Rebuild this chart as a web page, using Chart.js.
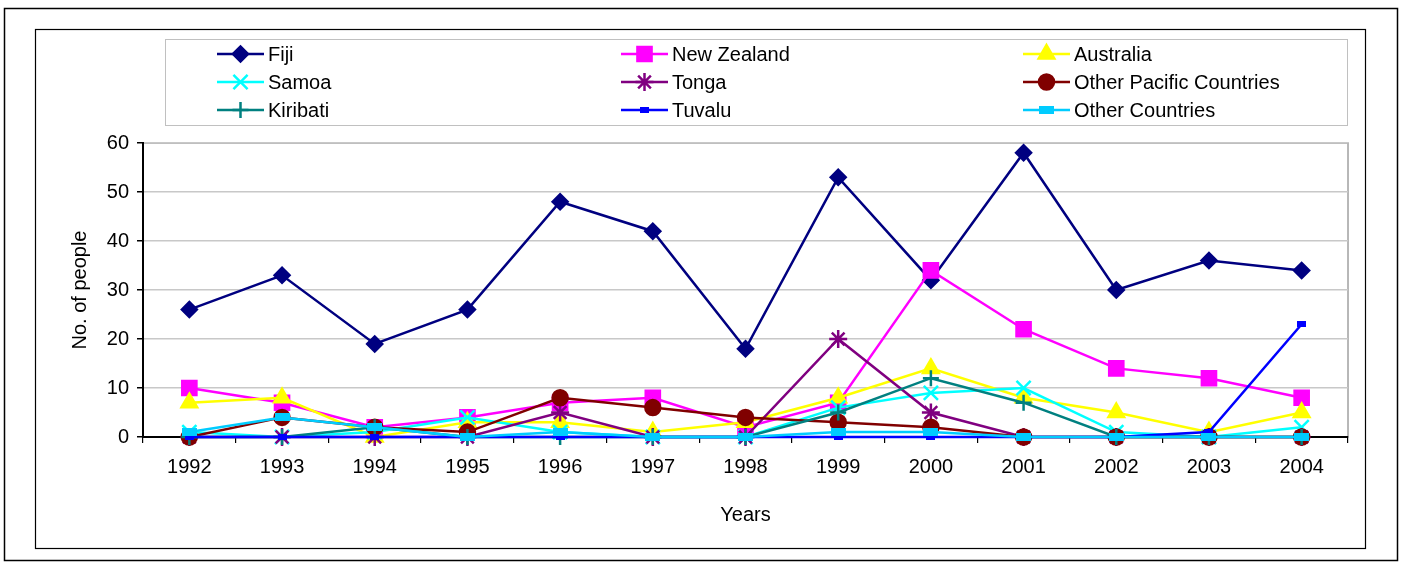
<!DOCTYPE html>
<html>
<head>
<meta charset="utf-8">
<script src="https://cdn.jsdelivr.net/npm/chart.js"></script>
<style>
  html, body { margin: 0; padding: 0; background: #fff; }
</style>
</head>
<body>
<canvas id="myChart" width="1402" height="564"></canvas>
<script>
// datos
var years = ["1992", "1993", "1994", "1995", "1996", "1997", "1998", "1999", "2000", "2001", "2002", "2003", "2004"];
var fiji          = [26, 33, 19, 26, 48, 42, 18, 53, 32, 58, 30, 36, 34];
var newZealand    = [10, 7, 2, 4, 7, 8, 2, 7, 34, 22, 14, 12, 8];
var australia     = [7, 8, 0, 3, 3, 1, 3, 8, 14, 8, 5, 1, 5];
var samoa         = [1, 0, 1, 4, 1, 0, 0, 6, 9, 10, 1, 0, 2];
var tonga         = [0, 0, 0, 0, 5, 0, 0, 20, 5, 0, 0, 0, 0];
var otherPacific  = [0, 4, 2, 1, 8, 6, 4, 3, 2, 0, 0, 0, 0];
var kiribati      = [0, 0, 2, 0, 0, 0, 0, 5, 12, 7, 0, 0, 0];
var tuvalu        = [0, 0, 0, 0, 0, 0, 0, 0, 0, 0, 0, 1, 23];
var otherCountries = [1, 4, 2, 0, 1, 0, 0, 1, 1, 0, 0, 0, 0];

var fuente = '"Liberation Sans", Arial, sans-serif';

function marcaRect(w, h, color) {
    var c = document.createElement('canvas');
    c.width = w; c.height = h;
    var x = c.getContext('2d');
    x.fillStyle = color;
    x.fillRect(0, 0, w, h);
    return c;
}

function serie(nombre, datos, color, estilo, radio) {
    return {
        label: nombre,
        data: datos,
        borderColor: color,
        backgroundColor: color,
        pointBackgroundColor: color,
        pointBorderColor: color,
        pointStyle: estilo,
        pointRadius: radio,
        pointBorderWidth: 2.5,
        borderWidth: 2.5,
        tension: 0,
        fill: false,
        clip: false
    };
}

var series = [
    serie("Fiji", fiji, "#000080", "rectRot", 7.5),
    serie("New Zealand", newZealand, "#FF00FF", "rect", 10),
    serie("Australia", australia, "#FFFF00", "triangle", 9),
    serie("Samoa", samoa, "#00FFFF", "crossRot", 10),
    serie("Tonga", tonga, "#800080", "star", 9),
    serie("Other Pacific Countries", otherPacific, "#800000", "circle", 7.5),
    serie("Kiribati", kiribati, "#008080", "cross", 8),
    serie("Tuvalu", tuvalu, "#0000FF", marcaRect(9, 6, "#0000FF"), 5),
    serie("Other Countries", otherCountries, "#00CCFF", marcaRect(15, 8, "#00CCFF"), 7)
];
// excel pinta la ultima serie encima
for (var i = 0; i < series.length; i++) {
    series[i].order = series.length - i;
}

function dibujaMarca(ctx, ds, x, y) {
    ctx.save();
    ctx.fillStyle = ds.pointBackgroundColor;
    ctx.strokeStyle = ds.pointBorderColor;
    ctx.lineWidth = ds.pointBorderWidth;
    Chart.helpers.drawPoint(ctx, { pointStyle: ds.pointStyle, radius: ds.pointRadius, rotation: 0, borderWidth: ds.pointBorderWidth }, x, y);
    ctx.restore();
}

var marcos = {
    id: 'marcos',
    beforeDraw: function (chart) {
        var ctx = chart.ctx;
        var a = chart.chartArea;
        ctx.save();
        ctx.fillStyle = '#fff';
        ctx.fillRect(0, 0, chart.width, chart.height);
        ctx.strokeStyle = '#000';
        ctx.lineWidth = 1.5;
        ctx.strokeRect(4.5, 8.5, 1393, 552);
        ctx.lineWidth = 1.2;
        ctx.strokeRect(35.5, 29.5, 1330, 519);
        ctx.strokeStyle = '#C0C0C0';
        ctx.lineWidth = 1;
        ctx.strokeRect(165.5, 39.5, 1182, 86);
        ctx.strokeStyle = '#A0A0A0';
        ctx.lineWidth = 1.5;
        ctx.strokeRect(a.left, a.top, a.right - a.left, a.bottom - a.top);
        ctx.restore();
    },
    afterDraw: function (chart) {
        // leyenda en tres columnas
        var ctx = chart.ctx;
        var ds = chart.data.datasets;
        var colX = [217, 621, 1023];
        var filaY = [54, 82, 110];
        ctx.save();
        ctx.font = '20px ' + fuente;
        ctx.textBaseline = 'middle';
        for (var i = 0; i < ds.length; i++) {
            var x = colX[i % 3];
            var y = filaY[Math.floor(i / 3)];
            ctx.strokeStyle = ds[i].borderColor;
            ctx.lineWidth = ds[i].borderWidth;
            ctx.beginPath();
            ctx.moveTo(x, y);
            ctx.lineTo(x + 47, y);
            ctx.stroke();
            dibujaMarca(ctx, ds[i], x + 23.5, y);
            ctx.fillStyle = '#000';
            ctx.fillText(ds[i].label, x + 51, y + 1);
        }
        ctx.restore();
    }
};

new Chart("myChart", {
    type: "line",
    data: {
        labels: years,
        datasets: series
    },
    plugins: [marcos],
    options: {
        responsive: false,
        animation: false,
        devicePixelRatio: 1,
        layout: { padding: { left: 64, top: 143, right: 54, bottom: 33 } },
        plugins: {
            legend: { display: false },
            tooltip: { enabled: false }
        },
        scales: {
            x: {
                type: "category",
                offset: true,
                afterFit: function (s) { s.height = 94; },
                grid: { offset: true, drawOnChartArea: false, tickColor: '#000', tickLength: 6, lineWidth: 1.2 },
                border: { color: '#000', width: 2 },
                ticks: { color: '#000', font: { family: fuente, size: 20 }, padding: 12, maxRotation: 0 },
                title: { display: true, text: "Years", color: '#000', font: { family: fuente, size: 20 } }
            },
            y: {
                min: 0,
                max: 60,
                afterFit: function (s) { s.width = 79; },
                grid: { color: '#C8C8C8', lineWidth: 1.5, tickColor: '#000', tickLength: 6 },
                border: { color: '#000', width: 2 },
                ticks: { stepSize: 10, color: '#000', font: { family: fuente, size: 20 }, padding: 8 },
                title: { display: true, text: "No. of people", color: '#000', font: { family: fuente, size: 20 } }
            }
        }
    }
});
</script>
</body>
</html>
